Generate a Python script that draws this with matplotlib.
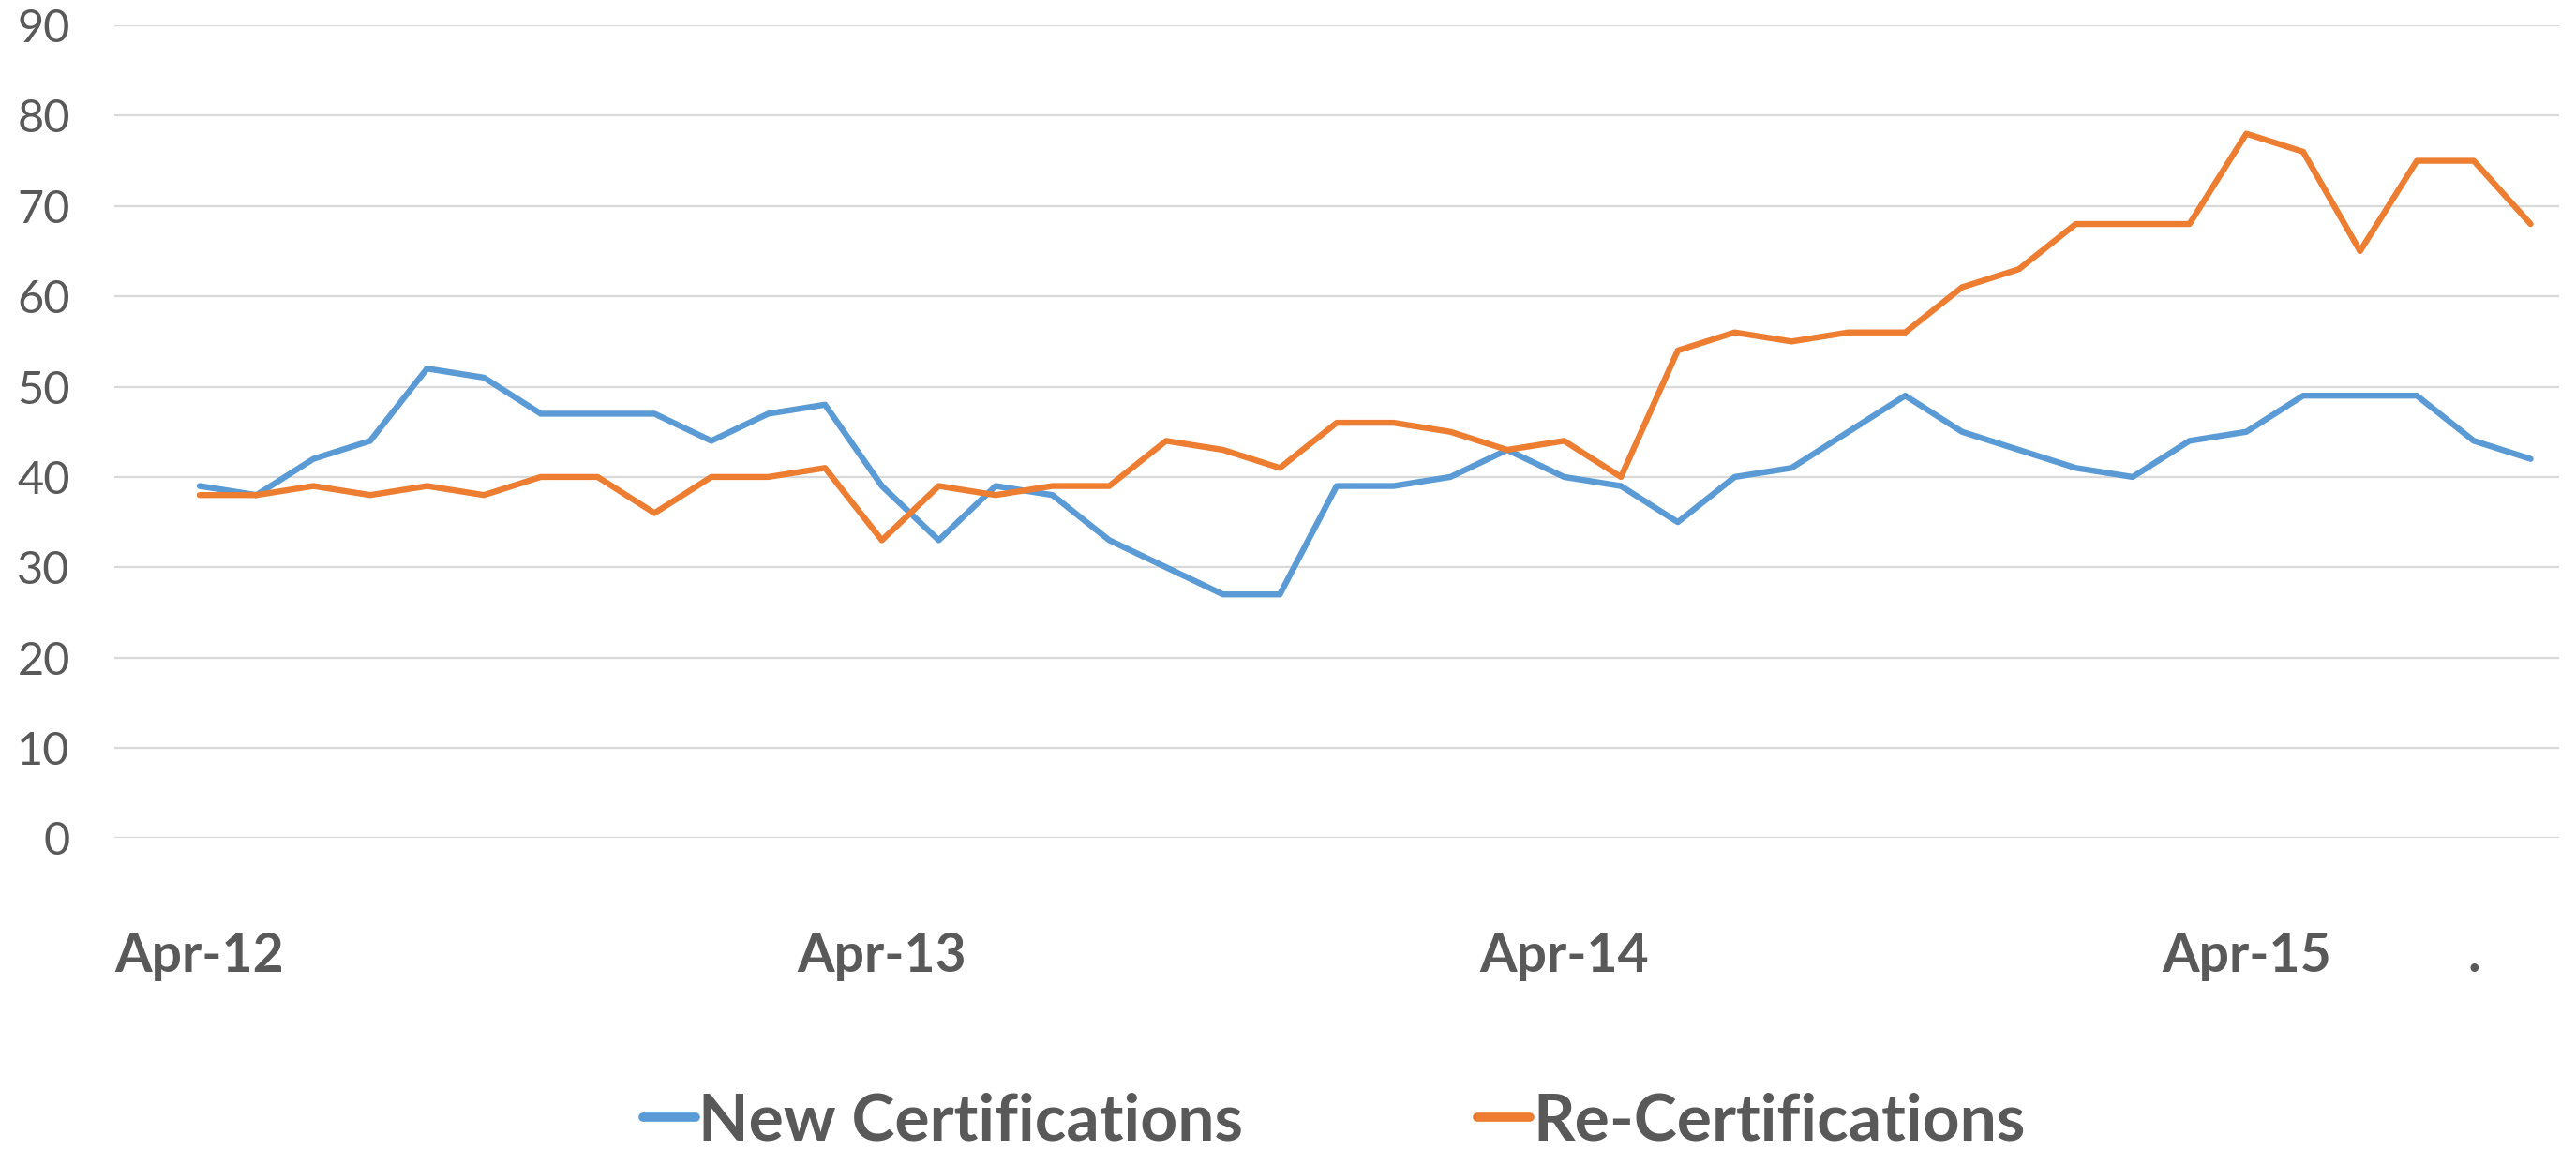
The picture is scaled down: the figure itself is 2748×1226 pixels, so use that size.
"""Monthly certifications, Apr-12 to Sep-15: new vs re-certifications."""

import matplotlib

matplotlib.use("Agg")
import matplotlib.pyplot as plt
import numpy as np

BLUE = "#5B9BD5"
ORANGE = "#ED7D31"
TEXT = "#595959"
GRID = "#D9D9D9"

# one value per month, starting Apr-12
new_cert = [39, 38, 42, 44, 52, 51, 47, 47, 47, 44, 47, 48,
            39, 33, 39, 38, 33, 30, 27, 27, 39, 39, 40, 43,
            40, 39, 35, 40, 41, 45, 49, 45, 43, 41, 40, 44,
            45, 49, 49, 49, 44, 42]
re_cert = [38, 38, 39, 38, 39, 38, 40, 40, 36, 40, 40, 41,
           33, 39, 38, 39, 39, 44, 43, 41, 46, 46, 45, 43,
           44, 40, 54, 56, 55, 56, 56, 61, 63, 68, 68, 68,
           78, 76, 65, 75, 75, 68]
tick_pos = [0, 12, 24, 36, 40]
tick_labels = ["Apr-12", "Apr-13", "Apr-14", "Apr-15", "."]
y_ticks = [0, 10, 20, 30, 40, 50, 60, 70, 80, 90]

plt.rcParams["font.family"] = ["Lato", "DejaVu Sans"]

fig = plt.figure(figsize=(27.48, 12.26), dpi=100)
ax = fig.add_axes([0.0444, 0.2704, 0.949, 0.7076])

x = np.arange(len(new_cert))
ax.plot(x, new_cert, color=BLUE, linewidth=4.6, label="New Certifications",
        solid_joinstyle="round", solid_capstyle="round")
ax.plot(x, re_cert, color=ORANGE, linewidth=4.6, label="Re-Certifications",
        solid_joinstyle="round", solid_capstyle="round")

ax.set_xlim(-1.5, len(x) - 0.5)
ax.set_ylim(0, 90)
ax.set_yticks(y_ticks)
ax.set_xticks(tick_pos, tick_labels)
ax.grid(axis="y", color=GRID, linewidth=1.6)
ax.grid(axis="x", visible=False)
ax.set_axisbelow(True)
for spine in ax.spines.values():
    spine.set_visible(False)
ax.tick_params(axis="y", length=0, pad=34, labelsize=35, labelcolor=TEXT)
ax.tick_params(axis="x", length=0, pad=72, labelsize=41, labelcolor=TEXT)
for lbl in ax.get_xticklabels():
    lbl.set_fontweight("bold")

leg = fig.legend(loc="center", bbox_to_anchor=(0.518, 0.024), ncol=2, frameon=False,
                 prop={"size": 50, "weight": "bold"}, handlelength=0.8,
                 handletextpad=0.05, columnspacing=3.6)
for t in leg.get_texts():
    t.set_color(TEXT)
for h in leg.get_lines():
    h.set_linewidth(7)

fig.savefig("out.png", dpi=100)
